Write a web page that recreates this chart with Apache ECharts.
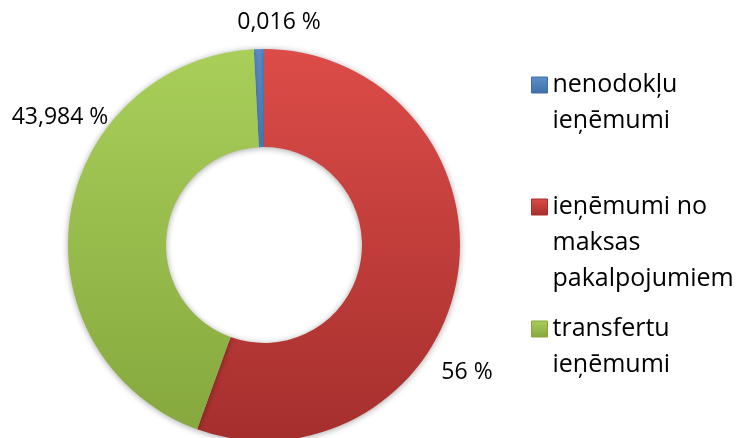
<!DOCTYPE html>
<html>
<head>
<meta charset="utf-8">
<script src="https://cdn.jsdelivr.net/npm/echarts@6/dist/echarts.min.js"></script>
<style>
  html, body { margin: 0; padding: 0; background: #fff; }
  #chart { width: 742px; height: 438px; }
</style>
</head>
<body>
<div id="chart"></div>
<script>
// data
var categories = ["nenodokļu ieņēmumi", "ieņēmumi no maksas pakalpojumiem", "transfertu ieņēmumi"];
var legendLines = [
  ["nenodokļu", "ieņēmumi"],
  ["ieņēmumi no", "maksas", "pakalpojumiem"],
  ["transfertu", "ieņēmumi"]
];
var shares = [0.016, 56, 43.984];

// styles
var topColors = ["#5b8fcc", "#dc4c48", "#a9cf5a"];
var bottomColors = ["#3f6ea8", "#a52f2d", "#85a73d"];
var labelPos = [[279, 22], [467, 372], [60, 117]];
var LINE = 36;

var chart = echarts.init(document.getElementById("chart"));

function fmt(v) {
  return String(v).replace(".", ",") + " %";
}

var pieData = categories.map(function (name, i) {
  return {
    name: name,
    value: shares[i],
    itemStyle: {
      color: {
        type: "linear", x: 0, y: 49, x2: 0, y2: 441, global: true,
        colorStops: [
          { offset: 0, color: topColors[i] },
          { offset: 1, color: bottomColors[i] }
        ]
      }
    }
  };
});

var legendData = categories.map(function (name, i) {
  return {
    name: name,
    itemStyle: {
      color: {
        type: "linear", x: 0, y: 0, x2: 0, y2: 1,
        colorStops: [
          { offset: 0, color: topColors[i] },
          { offset: 1, color: bottomColors[i] }
        ]
      },
      borderColor: bottomColors[i],
      borderWidth: 1
    }
  };
});

chart.setOption({
  animation: false,
  legend: {
    orient: "vertical",
    left: 531,
    top: 31,
    padding: 0,
    itemGap: -22,
    itemWidth: 16,
    itemHeight: 16,
    icon: "rect",
    selectedMode: false,
    data: legendData,
    formatter: function (name) {
      var lines = legendLines[categories.indexOf(name)];
      // blank lines on top so the icon sits level with the first line
      var pad = [];
      for (var k = 1; k < lines.length; k++) pad.push(" ");
      return pad.concat(lines).join("\n");
    },
    textStyle: {
      fontFamily: "Open Sans",
      fontSize: 25,
      color: "#000",
      lineHeight: LINE
    }
  },
  series: [
    {
      type: "pie",
      center: [264, 245],
      radius: [98, 196],
      startAngle: 93,
      minAngle: 3,
      clockwise: true,
      avoidLabelOverlap: false,
      silent: true,
      itemStyle: {
        borderWidth: 0,
        shadowBlur: 6,
        shadowColor: "rgba(0,0,0,0.35)",
        shadowOffsetY: 1
      },
      label: {
        show: true,
        position: "outside",
        fontFamily: "Open Sans",
        fontSize: 23,
        color: "#000",
        formatter: function (p) { return fmt(p.value); }
      },
      labelLine: { show: false },
      labelLayout: function (p) {
        var pos = labelPos[p.dataIndex];
        return { x: pos[0], y: pos[1], align: "center", verticalAlign: "middle" };
      },
      data: pieData
    }
  ]
});
</script>
</body>
</html>
